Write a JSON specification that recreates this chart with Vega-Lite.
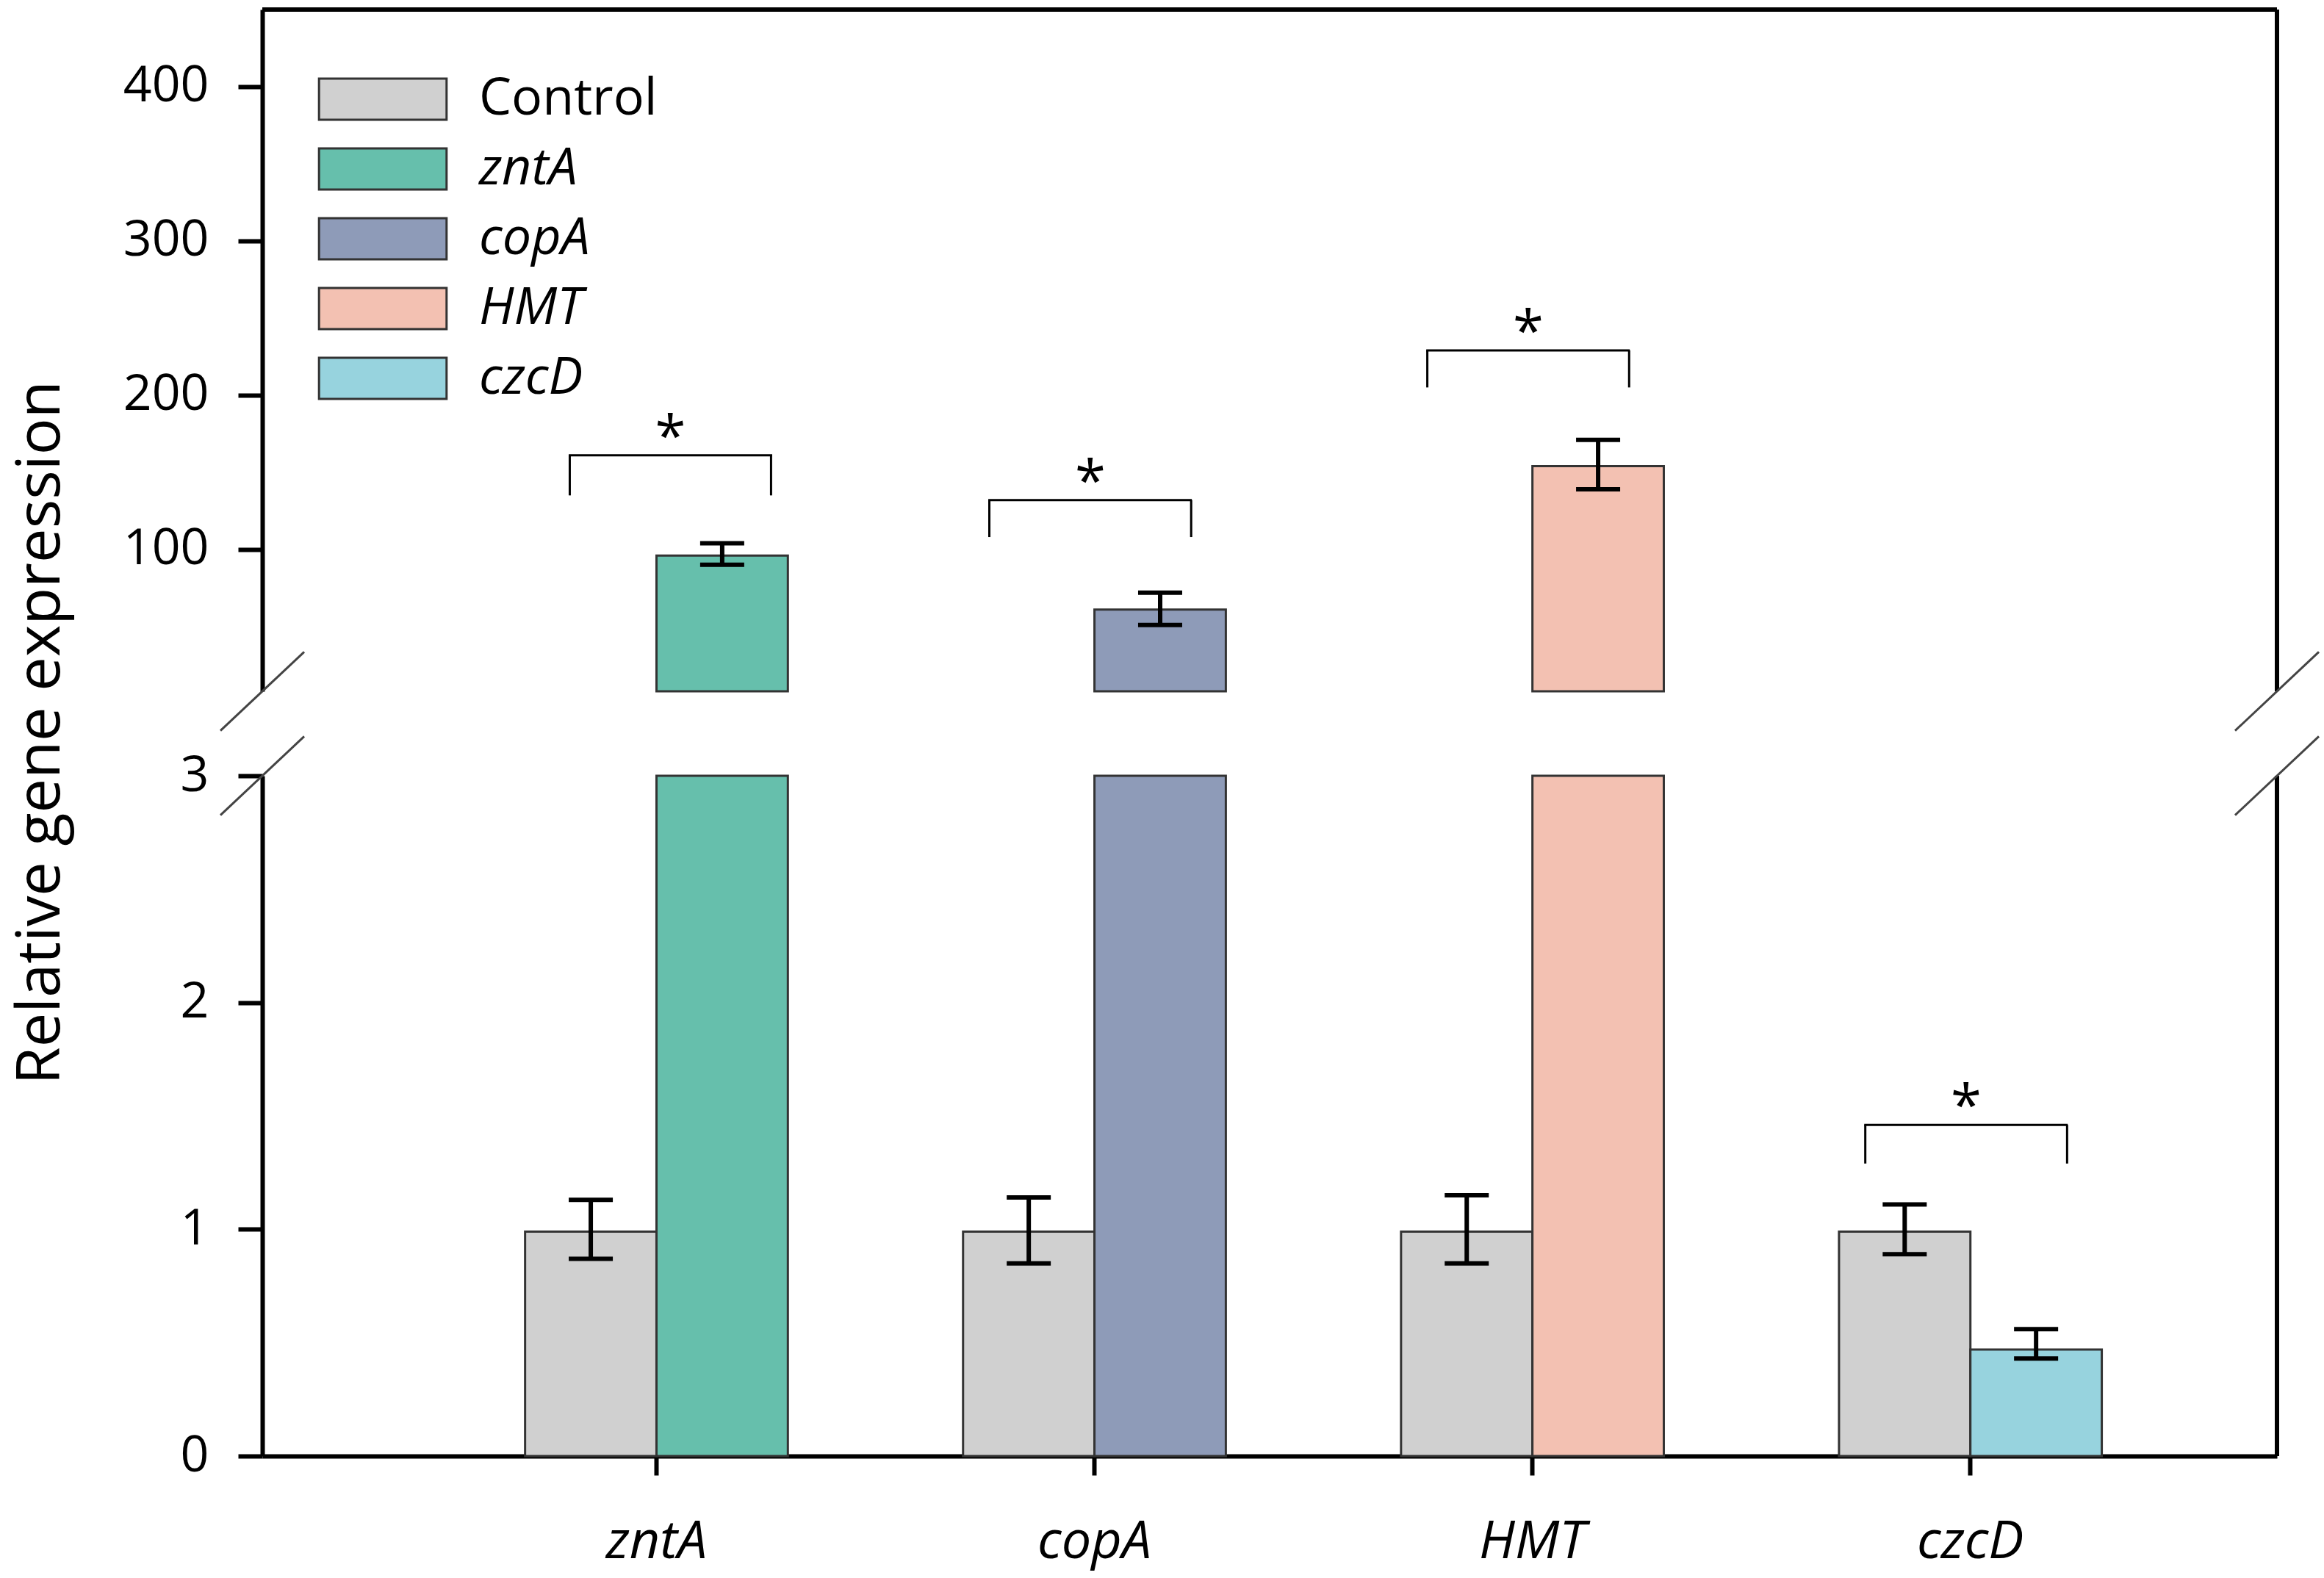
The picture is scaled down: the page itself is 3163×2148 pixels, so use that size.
{
  "$schema": "https://vega.github.io/schema/vega-lite/v6.json",
  "background": "white",
  "padding": {"left": 13, "top": 10, "right": 10, "bottom": 8},
  "bounds": "flush",
  "spacing": 115,
  "config": {
    "font": "Open Sans",
    "view": {"stroke": null},
    "axis": {
      "domainColor": "black", "domainWidth": 6,
      "tickColor": "black", "tickWidth": 6,
      "labelColor": "black", "labelFont": "Open Sans", "labelFontSize": 68, "labelLimit": 1000,
      "grid": false,
      "titleColor": "black", "titleFont": "Open Sans", "titleFontWeight": "normal", "titleFontSize": 83, "titleLimit": 3000
    },
    "axisY": {"tickSize": 33, "labelPadding": 40},
    "axisX": {"tickSize": 26, "labelPadding": 55, "labelFontStyle": "italic", "labelFontSize": 72, "labelAngle": 0}
  },
  "datasets": {
    "expr": [
      {"gene": "zntA", "cond": "Control", "group": "Control", "value": 0.99, "lo": 0.87, "hi": 1.13},
      {"gene": "zntA", "cond": "Treated", "group": "zntA", "value": 96, "lo": 90, "hi": 104},
      {"gene": "copA", "cond": "Control", "group": "Control", "value": 0.99, "lo": 0.85, "hi": 1.14},
      {"gene": "copA", "cond": "Treated", "group": "copA", "value": 61, "lo": 51, "hi": 72},
      {"gene": "HMT", "cond": "Control", "group": "Control", "value": 0.99, "lo": 0.85, "hi": 1.15},
      {"gene": "HMT", "cond": "Treated", "group": "HMT", "value": 154, "lo": 139, "hi": 171},
      {"gene": "czcD", "cond": "Control", "group": "Control", "value": 0.99, "lo": 0.89, "hi": 1.11},
      {"gene": "czcD", "cond": "Treated", "group": "czcD", "value": 0.47, "lo": 0.43, "hi": 0.56}
    ],
    "sig": [
      {"gene": "zntA", "top": 161, "bottom": 135, "label": "*"},
      {"gene": "copA", "top": 132, "bottom": 108, "label": "*"},
      {"gene": "HMT", "top": 229, "bottom": 205, "label": "*"},
      {"gene": "czcD", "top": 1.46, "bottom": 1.29, "label": "*"}
    ],
    "frame": [{}]
  },
  "resolve": {"legend": {"color": "independent"}},
  "vconcat": [
    {
      "width": 2742,
      "height": 928,
      "resolve": {"scale": {"x": "independent"}},
      "layer": [
        {
          "data": {"name": "expr"},
          "transform": [{"filter": "datum.value > 8"}],
          "encoding": {
            "x": {"field": "gene", "type": "nominal", "scale": {"type": "band", "domain": ["zntA", "copA", "HMT", "czcD"], "paddingInner": 0.4, "paddingOuter": 0.5, "align": 0.6}, "axis": null},
            "xOffset": {"field": "cond", "type": "nominal", "scale": {"domain": ["Control", "Treated"], "paddingInner": 0, "paddingOuter": 0}}
          },
          "layer": [
            {
              "mark": {"type": "bar", "stroke": "#333333", "strokeWidth": 3},
              "encoding": {
                "y": {"field": "value", "type": "quantitative", "scale": {"domain": [8, 450], "nice": false, "zero": false, "clamp": true}, "axis": {"values": [100, 200, 300, 400], "title": null}},
                "y2": {"datum": 8},
                "color": {
                  "field": "group", "type": "nominal",
                  "scale": {"domain": ["Control", "zntA", "copA", "HMT", "czcD"], "range": ["#d0d0d0", "#66bfac", "#8e9bb8", "#f3c1b2", "#97d3de"]},
                  "legend": {
                    "title": null, "orient": "none", "legendX": 129, "legendY": 87,
                    "symbolType": "M-3.1,-1H3.1V1H-3.1Z", "symbolSize": 3136,
                    "symbolStrokeColor": "#333333", "symbolStrokeWidth": 3, "symbolOpacity": 1,
                    "labelFontSize": 70, "labelFont": "Open Sans", "labelColor": "black", "labelLimit": 1000,
                    "labelOffset": 96, "rowPadding": 25,
                    "encode": {"labels": {"update": {"fontStyle": {"signal": "datum.label == 'Control' ? 'normal' : 'italic'"}}}}
                  }
                }
              }
            },
            {
              "mark": {"type": "rule", "strokeWidth": 6, "color": "black"},
              "encoding": {
                "y": {"field": "lo", "type": "quantitative", "scale": {"domain": [8, 450], "nice": false, "zero": false, "clamp": true}, "axis": {"values": [100, 200, 300, 400], "title": null}},
                "y2": {"field": "hi"}
              }
            },
            {
              "mark": {"type": "tick", "orient": "horizontal", "size": 60, "thickness": 6, "color": "black", "opacity": 1},
              "encoding": {"y": {"field": "lo", "type": "quantitative", "scale": {"domain": [8, 450], "nice": false, "zero": false, "clamp": true}, "axis": {"values": [100, 200, 300, 400], "title": null}}}
            },
            {
              "mark": {"type": "tick", "orient": "horizontal", "size": 60, "thickness": 6, "color": "black", "opacity": 1},
              "encoding": {"y": {"field": "hi", "type": "quantitative", "scale": {"domain": [8, 450], "nice": false, "zero": false, "clamp": true}, "axis": {"values": [100, 200, 300, 400], "title": null}}}
            }
          ]
        },
        {
          "data": {"name": "sig"},
          "transform": [{"filter": "datum.top > 8"}],
          "layer": [
            {
              "transform": [{"filter": "datum.gene == 'zntA'"}],
              "layer": [
                {"mark": {"type": "rule", "strokeWidth": 3, "color": "black"},
                 "encoding": {"x": {"field": "gene", "type": "nominal", "bandPosition": 0.17, "scale": {"type": "band", "domain": ["zntA", "copA", "HMT", "czcD"], "paddingInner": 0.4, "paddingOuter": 0.5, "align": 0.6}, "axis": null},
                   "y": {"field": "top", "type": "quantitative", "scale": {"domain": [8, 450], "nice": false, "zero": false, "clamp": true}, "axis": {"values": [100, 200, 300, 400], "title": null}}, "y2": {"field": "bottom"}}},
                {"mark": {"type": "rule", "strokeWidth": 3, "color": "black"},
                 "encoding": {"x": {"field": "gene", "type": "nominal", "bandPosition": 0.936, "scale": {"type": "band", "domain": ["zntA", "copA", "HMT", "czcD"], "paddingInner": 0.4, "paddingOuter": 0.5, "align": 0.6}, "axis": null},
                   "y": {"field": "top", "type": "quantitative", "scale": {"domain": [8, 450], "nice": false, "zero": false, "clamp": true}, "axis": {"values": [100, 200, 300, 400], "title": null}}, "y2": {"field": "bottom"}}},
                {"mark": {"type": "tick", "orient": "horizontal", "size": 277, "thickness": 3, "color": "black", "opacity": 1, "xOffset": 19},
                 "encoding": {"x": {"field": "gene", "type": "nominal", "scale": {"type": "band", "domain": ["zntA", "copA", "HMT", "czcD"], "paddingInner": 0.4, "paddingOuter": 0.5, "align": 0.6}, "axis": null},
                   "y": {"field": "top", "type": "quantitative", "scale": {"domain": [8, 450], "nice": false, "zero": false, "clamp": true}, "axis": {"values": [100, 200, 300, 400], "title": null}}}},
                {"mark": {"type": "text", "fontSize": 76, "baseline": "middle", "align": "center", "dy": -22, "color": "black"},
                 "encoding": {"x": {"field": "gene", "type": "nominal", "bandPosition": 0.553, "scale": {"type": "band", "domain": ["zntA", "copA", "HMT", "czcD"], "paddingInner": 0.4, "paddingOuter": 0.5, "align": 0.6}, "axis": null},
                   "y": {"field": "top", "type": "quantitative", "scale": {"domain": [8, 450], "nice": false, "zero": false, "clamp": true}, "axis": {"values": [100, 200, 300, 400], "title": null}}, "text": {"field": "label"}}}
              ]
            },
            {
              "transform": [{"filter": "datum.gene != 'zntA'"}],
              "layer": [
                {"mark": {"type": "rule", "strokeWidth": 3, "color": "black"},
                 "encoding": {"x": {"field": "gene", "type": "nominal", "bandPosition": 0.1, "scale": {"type": "band", "domain": ["zntA", "copA", "HMT", "czcD"], "paddingInner": 0.4, "paddingOuter": 0.5, "align": 0.6}, "axis": null},
                   "y": {"field": "top", "type": "quantitative", "scale": {"domain": [8, 450], "nice": false, "zero": false, "clamp": true}, "axis": {"values": [100, 200, 300, 400], "title": null}}, "y2": {"field": "bottom"}}},
                {"mark": {"type": "rule", "strokeWidth": 3, "color": "black"},
                 "encoding": {"x": {"field": "gene", "type": "nominal", "bandPosition": 0.868, "scale": {"type": "band", "domain": ["zntA", "copA", "HMT", "czcD"], "paddingInner": 0.4, "paddingOuter": 0.5, "align": 0.6}, "axis": null},
                   "y": {"field": "top", "type": "quantitative", "scale": {"domain": [8, 450], "nice": false, "zero": false, "clamp": true}, "axis": {"values": [100, 200, 300, 400], "title": null}}, "y2": {"field": "bottom"}}},
                {"mark": {"type": "tick", "orient": "horizontal", "size": 277, "thickness": 3, "color": "black", "opacity": 1, "xOffset": -6},
                 "encoding": {"x": {"field": "gene", "type": "nominal", "scale": {"type": "band", "domain": ["zntA", "copA", "HMT", "czcD"], "paddingInner": 0.4, "paddingOuter": 0.5, "align": 0.6}, "axis": null},
                   "y": {"field": "top", "type": "quantitative", "scale": {"domain": [8, 450], "nice": false, "zero": false, "clamp": true}, "axis": {"values": [100, 200, 300, 400], "title": null}}}},
                {"mark": {"type": "text", "fontSize": 76, "baseline": "middle", "align": "center", "dy": -22, "color": "black"},
                 "encoding": {"x": {"field": "gene", "type": "nominal", "bandPosition": 0.484, "scale": {"type": "band", "domain": ["zntA", "copA", "HMT", "czcD"], "paddingInner": 0.4, "paddingOuter": 0.5, "align": 0.6}, "axis": null},
                   "y": {"field": "top", "type": "quantitative", "scale": {"domain": [8, 450], "nice": false, "zero": false, "clamp": true}, "axis": {"values": [100, 200, 300, 400], "title": null}}, "text": {"field": "label"}}}
              ]
            }
          ]
        },
        {
          "data": {"name": "frame"},
          "layer": [
            {"mark": {"type": "rule", "strokeWidth": 6, "color": "black"},
             "encoding": {"x": {"datum": 0, "type": "quantitative", "scale": {"domain": [0, 1], "nice": false, "zero": false}, "axis": null}, "x2": {"datum": 1},
               "y": {"datum": 450, "type": "quantitative", "scale": {"domain": [8, 450], "nice": false, "zero": false, "clamp": true}, "axis": {"values": [100, 200, 300, 400], "title": null}}}},
            {"mark": {"type": "rule", "strokeWidth": 6, "color": "black"},
             "encoding": {"x": {"datum": 1, "type": "quantitative", "scale": {"domain": [0, 1], "nice": false, "zero": false}, "axis": null},
               "y": {"datum": 8, "type": "quantitative", "scale": {"domain": [8, 450], "nice": false, "zero": false, "clamp": true}, "axis": {"values": [100, 200, 300, 400], "title": null}}, "y2": {"datum": 450}}},
            {"mark": {"type": "point", "shape": "M-1,0.94L1,-0.94", "size": 12996, "filled": false, "color": "#444444", "strokeWidth": 3, "opacity": 1},
             "encoding": {"x": {"datum": 0, "type": "quantitative", "scale": {"domain": [0, 1], "nice": false, "zero": false}, "axis": null},
               "y": {"datum": 8, "type": "quantitative", "scale": {"domain": [8, 450], "nice": false, "zero": false, "clamp": true}, "axis": {"values": [100, 200, 300, 400], "title": null}}}},
            {"mark": {"type": "point", "shape": "M-1,0.94L1,-0.94", "size": 12996, "filled": false, "color": "#444444", "strokeWidth": 3, "opacity": 1},
             "encoding": {"x": {"datum": 1, "type": "quantitative", "scale": {"domain": [0, 1], "nice": false, "zero": false}, "axis": null},
               "y": {"datum": 8, "type": "quantitative", "scale": {"domain": [8, 450], "nice": false, "zero": false, "clamp": true}, "axis": {"values": [100, 200, 300, 400], "title": null}}}}
          ]
        }
      ]
    },
    {
      "width": 2742,
      "height": 926,
      "resolve": {"scale": {"x": "independent"}},
      "layer": [
        {
          "data": {"name": "expr"},
          "encoding": {
            "x": {"field": "gene", "type": "nominal", "scale": {"type": "band", "domain": ["zntA", "copA", "HMT", "czcD"], "paddingInner": 0.4, "paddingOuter": 0.5, "align": 0.6}, "axis": {"title": null}},
            "xOffset": {"field": "cond", "type": "nominal", "scale": {"domain": ["Control", "Treated"], "paddingInner": 0, "paddingOuter": 0}}
          },
          "layer": [
            {
              "mark": {"type": "bar", "stroke": "#333333", "strokeWidth": 3},
              "encoding": {
                "y": {"field": "value", "type": "quantitative", "scale": {"domain": [0, 3], "nice": false, "zero": false, "clamp": true},
                  "axis": {"values": [0, 1, 2, 3], "title": "Relative gene expression", "titleAngle": -90, "titleX": -302, "titleY": -59, "titleBaseline": "middle", "titleAlign": "center"}},
                "y2": {"datum": 0},
                "color": {"field": "group", "type": "nominal", "scale": {"domain": ["Control", "zntA", "copA", "HMT", "czcD"], "range": ["#d0d0d0", "#66bfac", "#8e9bb8", "#f3c1b2", "#97d3de"]}, "legend": null}
              }
            },
            {
              "transform": [{"filter": "datum.value <= 3"}],
              "mark": {"type": "rule", "strokeWidth": 6, "color": "black"},
              "encoding": {
                "y": {"field": "lo", "type": "quantitative", "scale": {"domain": [0, 3], "nice": false, "zero": false, "clamp": true},
                  "axis": {"values": [0, 1, 2, 3], "title": "Relative gene expression", "titleAngle": -90, "titleX": -302, "titleY": -59, "titleBaseline": "middle", "titleAlign": "center"}},
                "y2": {"field": "hi"}
              }
            },
            {
              "transform": [{"filter": "datum.value <= 3"}],
              "mark": {"type": "tick", "orient": "horizontal", "size": 60, "thickness": 6, "color": "black", "opacity": 1},
              "encoding": {"y": {"field": "lo", "type": "quantitative", "scale": {"domain": [0, 3], "nice": false, "zero": false, "clamp": true},
                  "axis": {"values": [0, 1, 2, 3], "title": "Relative gene expression", "titleAngle": -90, "titleX": -302, "titleY": -59, "titleBaseline": "middle", "titleAlign": "center"}}}
            },
            {
              "transform": [{"filter": "datum.value <= 3"}],
              "mark": {"type": "tick", "orient": "horizontal", "size": 60, "thickness": 6, "color": "black", "opacity": 1},
              "encoding": {"y": {"field": "hi", "type": "quantitative", "scale": {"domain": [0, 3], "nice": false, "zero": false, "clamp": true},
                  "axis": {"values": [0, 1, 2, 3], "title": "Relative gene expression", "titleAngle": -90, "titleX": -302, "titleY": -59, "titleBaseline": "middle", "titleAlign": "center"}}}
            }
          ]
        },
        {
          "data": {"name": "sig"},
          "transform": [{"filter": "datum.top <= 3"}],
          "layer": [
            {"mark": {"type": "rule", "strokeWidth": 3, "color": "black"},
             "encoding": {"x": {"field": "gene", "type": "nominal", "bandPosition": 0.1, "scale": {"type": "band", "domain": ["zntA", "copA", "HMT", "czcD"], "paddingInner": 0.4, "paddingOuter": 0.5, "align": 0.6}, "axis": null},
               "y": {"field": "top", "type": "quantitative", "scale": {"domain": [0, 3], "nice": false, "zero": false, "clamp": true},
                  "axis": {"values": [0, 1, 2, 3], "title": "Relative gene expression", "titleAngle": -90, "titleX": -302, "titleY": -59, "titleBaseline": "middle", "titleAlign": "center"}}, "y2": {"field": "bottom"}}},
            {"mark": {"type": "rule", "strokeWidth": 3, "color": "black"},
             "encoding": {"x": {"field": "gene", "type": "nominal", "bandPosition": 0.868, "scale": {"type": "band", "domain": ["zntA", "copA", "HMT", "czcD"], "paddingInner": 0.4, "paddingOuter": 0.5, "align": 0.6}, "axis": null},
               "y": {"field": "top", "type": "quantitative", "scale": {"domain": [0, 3], "nice": false, "zero": false, "clamp": true},
                  "axis": {"values": [0, 1, 2, 3], "title": "Relative gene expression", "titleAngle": -90, "titleX": -302, "titleY": -59, "titleBaseline": "middle", "titleAlign": "center"}}, "y2": {"field": "bottom"}}},
            {"mark": {"type": "tick", "orient": "horizontal", "size": 277, "thickness": 3, "color": "black", "opacity": 1, "xOffset": -6},
             "encoding": {"x": {"field": "gene", "type": "nominal", "scale": {"type": "band", "domain": ["zntA", "copA", "HMT", "czcD"], "paddingInner": 0.4, "paddingOuter": 0.5, "align": 0.6}, "axis": null},
               "y": {"field": "top", "type": "quantitative", "scale": {"domain": [0, 3], "nice": false, "zero": false, "clamp": true},
                  "axis": {"values": [0, 1, 2, 3], "title": "Relative gene expression", "titleAngle": -90, "titleX": -302, "titleY": -59, "titleBaseline": "middle", "titleAlign": "center"}}}},
            {"mark": {"type": "text", "fontSize": 76, "baseline": "middle", "align": "center", "dy": -22, "color": "black"},
             "encoding": {"x": {"field": "gene", "type": "nominal", "bandPosition": 0.484, "scale": {"type": "band", "domain": ["zntA", "copA", "HMT", "czcD"], "paddingInner": 0.4, "paddingOuter": 0.5, "align": 0.6}, "axis": null},
               "y": {"field": "top", "type": "quantitative", "scale": {"domain": [0, 3], "nice": false, "zero": false, "clamp": true},
                  "axis": {"values": [0, 1, 2, 3], "title": "Relative gene expression", "titleAngle": -90, "titleX": -302, "titleY": -59, "titleBaseline": "middle", "titleAlign": "center"}}, "text": {"field": "label"}}}
          ]
        },
        {
          "data": {"name": "frame"},
          "layer": [
            {"mark": {"type": "rule", "strokeWidth": 6, "color": "black"},
             "encoding": {"x": {"datum": 1, "type": "quantitative", "scale": {"domain": [0, 1], "nice": false, "zero": false}, "axis": null},
               "y": {"datum": 0, "type": "quantitative", "scale": {"domain": [0, 3], "nice": false, "zero": false, "clamp": true},
                  "axis": {"values": [0, 1, 2, 3], "title": "Relative gene expression", "titleAngle": -90, "titleX": -302, "titleY": -59, "titleBaseline": "middle", "titleAlign": "center"}}, "y2": {"datum": 3}}},
            {"mark": {"type": "point", "shape": "M-1,0.94L1,-0.94", "size": 12996, "filled": false, "color": "#444444", "strokeWidth": 3, "opacity": 1},
             "encoding": {"x": {"datum": 0, "type": "quantitative", "scale": {"domain": [0, 1], "nice": false, "zero": false}, "axis": null},
               "y": {"datum": 3, "type": "quantitative", "scale": {"domain": [0, 3], "nice": false, "zero": false, "clamp": true},
                  "axis": {"values": [0, 1, 2, 3], "title": "Relative gene expression", "titleAngle": -90, "titleX": -302, "titleY": -59, "titleBaseline": "middle", "titleAlign": "center"}}}},
            {"mark": {"type": "point", "shape": "M-1,0.94L1,-0.94", "size": 12996, "filled": false, "color": "#444444", "strokeWidth": 3, "opacity": 1},
             "encoding": {"x": {"datum": 1, "type": "quantitative", "scale": {"domain": [0, 1], "nice": false, "zero": false}, "axis": null},
               "y": {"datum": 3, "type": "quantitative", "scale": {"domain": [0, 3], "nice": false, "zero": false, "clamp": true},
                  "axis": {"values": [0, 1, 2, 3], "title": "Relative gene expression", "titleAngle": -90, "titleX": -302, "titleY": -59, "titleBaseline": "middle", "titleAlign": "center"}}}}
          ]
        }
      ]
    }
  ]
}
